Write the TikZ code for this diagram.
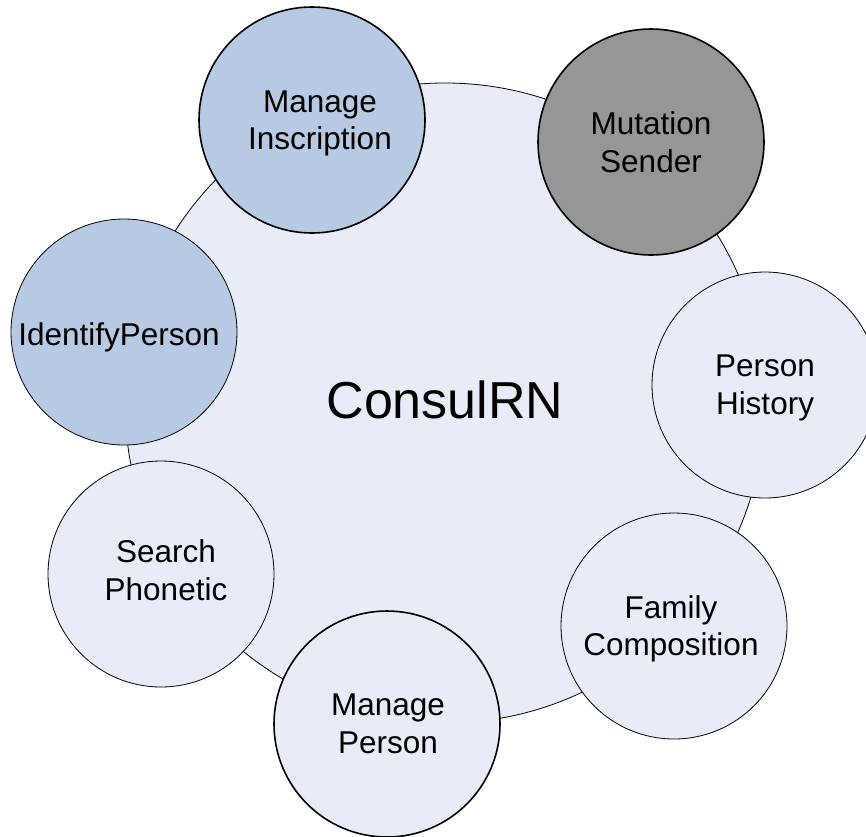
\documentclass[tikz,border=0pt]{standalone}
\usepackage{fontspec}
\setmainfont{Liberation Sans}
\definecolor{lightfill}{RGB}{231,236,247}
\definecolor{midfill}{RGB}{184,201,227}
\definecolor{grayfill}{RGB}{150,150,150}
\begin{document}
\begin{tikzpicture}[x=1pt,y=-1pt,
  bigc/.style={circle,draw=black,line width=0.8pt,fill=lightfill,minimum size=640pt,inner sep=0pt},
  smallc/.style={circle,draw=black,line width=0.8pt,minimum size=226pt,inner sep=0pt},
  thickc/.style={line width=1.6pt},
  light/.style={fill=lightfill},
  mid/.style={fill=midfill},
  grey/.style={fill=grayfill},
  bigtxt/.style={inner sep=0pt,font=\fontsize{52}{60}\selectfont},
  txt/.style={inner sep=0pt,align=center,font=\fontsize{31.5}{37.5}\selectfont}]
\useasboundingbox (0,0) rectangle (866,836);
\node[bigc] (core) at (445,403) {};
\node[bigtxt] (coreT) at (445,400) {ConsulRN};
\node[smallc,mid,thickc] (inscr) at (312,120) {};
\node[txt] (inscrT) at (320,123.5) {Manage\\Inscription};
\node[smallc,grey,thickc] (mut) at (651,142) {};
\node[txt] (mutT) at (651,142) {Mutation\\Sender};
\node[smallc,mid] (ident) at (124,332) {};
\node[txt] (identT) at (119,337) {IdentifyPerson};
\node[smallc,light] (hist) at (765,385) {};
\node[txt] (histT) at (765,388) {Person\\History};
\node[smallc,light] (phon) at (161,574) {};
\node[txt] (phonT) at (166,570) {Search\\Phonetic};
\node[smallc,light] (fam) at (674,626) {};
\node[txt] (famT) at (671,629) {Family\\Composition};
\node[smallc,light,thickc] (mperson) at (387,724) {};
\node[txt] (mpersonT) at (388,724) {Manage\\Person};
\end{tikzpicture}
\end{document}
